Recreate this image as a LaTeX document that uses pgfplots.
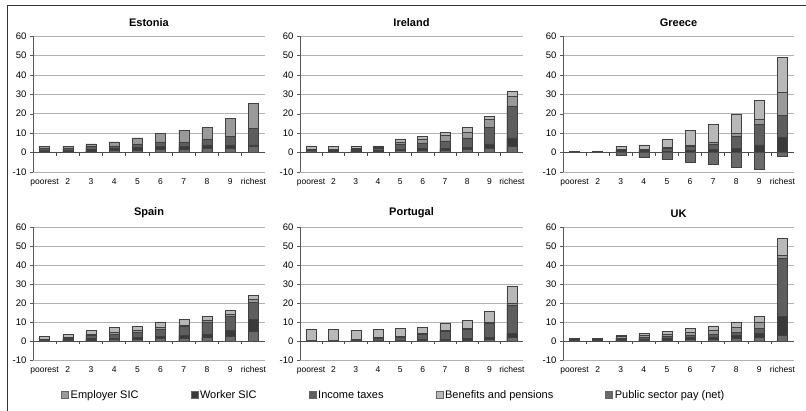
\documentclass[border=0pt]{standalone}
\usepackage{pgfplots}
\pgfplotsset{compat=1.18}
\usepackage{pgfplotstable}
\usepackage{fontspec}
\setmainfont{Liberation Sans}
\definecolor{cE}{HTML}{9A9A9A}
\definecolor{cW}{HTML}{3A3A3A}
\definecolor{cI}{HTML}{5E5E5E}
\definecolor{cB}{HTML}{B8B8B8}
\definecolor{cP}{HTML}{6A6A6A}

% tops of each stacked layer (bottom to top: psp, wsic, itax, esic, ben); neg = part below zero
\pgfplotstableread{
x psp wsic itax esic ben neg
0 0.5 1   2   3    3    0
1 0.5 1   2   3    3    0
2 0.8 1.5 3   4.5  4.5  0
3 1   2   3.5 5.5  5.5  0
4 1.2 2.5 4.5 7.5  7.5  0
5 1.5 3   5.5 10   10   0
6 1.5 3   5.5 11.5 11.5 0
7 2   4   7   13   13   0
8 2   4   8.5 17.5 17.5 0
9 3   4   12.5 25.5 25.5 0
}\estonia
\pgfplotstableread{
x psp wsic itax esic ben neg
0 0   0.3 1   1.5 3.5 0
1 0   0.5 1   1.5 3   0
2 0.3 1   1.5 2   3   0
3 0.5 1   2   2.8 3.5 0
4 1   1.5 4.5 5.5 7   0
5 1   2   5   7   8.5 0
6 1   2   6   9   10.5 0
7 1.5 2.5 7.5 10.5 13 0
8 2   4.5 13  17  18.5 0
9 3   7.5 24  29  31.5 0
}\ireland
\pgfplotstableread{
x psp wsic itax esic ben neg
0 0 0.2 0.4 0.5 0.7 0
1 0 0.2 0.4 0.5 0.7 0
2 0 0.5 1   1.5 3   -1.5
3 0 0.5 1   1.5 4   -2.5
4 0 0.5 2   2.5 7   -3.5
5 0 1   3   4   11.5 -5
6 0 1.5 4.5 5.5 14.5 -6
7 0 2   8.5 10  19.5 -7.5
8 0 4   14.5 17 27  -8.5
9 0 8   19  31  49  -2
}\greece
\pgfplotstableread{
x psp wsic itax esic ben neg
0 0   0.3 0.5 1   2.5 0
1 0.3 0.8 1.5 2   3.5 0
2 0.5 1.3 3   3.5 5.5 0
3 0.8 1.5 3.5 4.5 7   0
4 1   2   4.5 5.5 7.5 0
5 1.5 2.5 6   7   10  0
6 1.5 3   7.5 8.5 11.5 0
7 2   3.5 10  11  13  0
8 2.5 5.5 13  14  16  0
9 5   11.5 20.5 22 24 0
}\spain
\pgfplotstableread{
x psp wsic itax esic ben neg
0 0   0   0   0.3 6   0
1 0   0   0.2 0.5 6   0
2 0   0.2 0.8 1   5.5 0
3 0   0.3 1.5 1.8 6   0
4 0.2 0.5 2   2.5 6.5 0
5 0.3 0.8 3.5 4   7   0
6 0.5 1   5   5.5 9.5 0
7 0.5 1.2 6   6.5 11  0
8 1   2   9.5 10  15.5 0
9 2   4   19  20  29  0
}\portugal
\pgfplotstableread{
x psp wsic itax esic ben neg
0 0.2 0.5 1   1.2 1.5 0
1 0.2 0.5 1   1.3 1.5 0
2 0.5 1   1.5 2.5 3   0
3 0.5 1   2   3   4   0
4 0.5 1.5 2.5 3.5 5   0
5 1   2   3   4.5 6.5 0
6 1   2   3.5 5.5 8   0
7 1.5 3   4.5 7   10  0
8 2   4   6.5 10  13  0
9 3   13  43.5 45 54  0
}\uk

\pgfplotsset{
  panel/.style={
    scale only axis, width=232pt, height=136pt,
    xmin=-0.5, xmax=9.5, ymin=-10, ymax=60,
    ytick={-10,0,10,20,30,40,50,60},
    xtick={0,...,9}, xticklabels={poorest,2,3,4,5,6,7,8,9,richest},
    axis y line*=left, axis x line*=bottom,
    x axis line style={draw=none},
    y axis line style={draw=black!65, line width=0.8pt},
    major x tick style={draw=none},
    ytick style={draw=black!65},
    tick align=outside, major tick length=3pt,
    ymajorgrids, grid style={black!30, line width=0.6pt},
    ybar, bar width=10pt,
    /pgf/number format/assume math mode=true,
    yticklabel style={font=\fontsize{9.5}{10}\selectfont},
    xticklabel style={font=\fontsize{8.5}{9}\selectfont},
    title style={font=\bfseries\fontsize{11}{12}\selectfont},
    every axis plot/.append style={draw=black!75, line width=0.5pt, bar shift=0pt},
  },
}

\newcommand\bars[1]{%
  \addplot[fill=cB, bar shift=0pt, forget plot] table[x=x,y=ben]{#1};
  \addplot[fill=cE, bar shift=0pt, forget plot] table[x=x,y=esic]{#1};
  \addplot[fill=cI, bar shift=0pt, forget plot] table[x=x,y=itax]{#1};
  \addplot[fill=cW, bar shift=0pt, forget plot] table[x=x,y=wsic]{#1};
  \addplot[fill=cP, bar shift=0pt, forget plot] table[x=x,y=psp]{#1};
  \addplot[fill=cP, bar shift=0pt, forget plot] table[x=x,y=neg]{#1};
  \draw[black!70, line width=0.8pt] (axis cs:-0.5,0) -- (axis cs:9.5,0);
  \pgfplotsinvokeforeach{0.5,1.5,2.5,3.5,4.5,5.5,6.5,7.5,8.5}{\draw[black!70, line width=0.6pt] (axis cs:##1,0) -- ([yshift=-3pt]axis cs:##1,0);}
}

\begin{document}
\begin{tikzpicture}
\useasboundingbox (0,0) rectangle (806pt,411pt);
\draw[black!80, line width=0.8pt] (7pt,0) -- (7pt,406pt) -- (806pt,406pt);

\begin{axis}[panel, at={(33pt,239pt)}, anchor=south west, title={Estonia}]
\bars{\estonia}
\end{axis}
\begin{axis}[panel, at={(300pt,239pt)}, anchor=south west, width=223pt, title={Ireland}]
\bars{\ireland}
\end{axis}
\begin{axis}[panel, at={(563pt,239pt)}, anchor=south west, width=231pt, title={Greece}]
\bars{\greece}
\end{axis}

\begin{axis}[panel, at={(33pt,51pt)}, anchor=south west, height=133pt, title={Spain},
  legend columns=5,
  legend style={at={(1.555,-0.263)}, anchor=center, draw=none, fill=none,
    font=\fontsize{11}{12}\selectfont,
    /tikz/every even column/.append style={column sep=50pt}},
  legend image code/.code={\draw[#1] (0pt,-3pt) rectangle (7pt,4pt);}]
\bars{\spain}
\addlegendimage{fill=cE, draw=black!60}\addlegendentry{Employer SIC}
\addlegendimage{fill=cW, draw=black!60}\addlegendentry{Worker SIC}
\addlegendimage{fill=cI, draw=black!60}\addlegendentry{Income taxes}
\addlegendimage{fill=cB, draw=black!60}\addlegendentry{Benefits and pensions}
\addlegendimage{fill=cP, draw=black!60}\addlegendentry{Public sector pay (net)}
\end{axis}
\begin{axis}[panel, at={(300pt,51pt)}, anchor=south west, width=223pt, height=133pt, title={Portugal}]
\bars{\portugal}
\end{axis}
\begin{axis}[panel, at={(563pt,51pt)}, anchor=south west, width=231pt, height=133pt, title={UK}]
\bars{\uk}
\end{axis}
\end{tikzpicture}
\end{document}
